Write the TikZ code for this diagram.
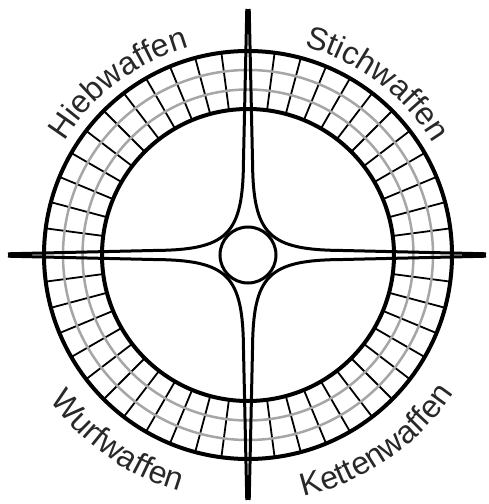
\documentclass[tikz,border=0pt]{standalone}
\usepackage{fontspec}
\usepackage{tikz}
\usetikzlibrary{decorations.text}
\newfontfamily\labelfont{Liberation Sans}
\newcommand\labelstyle{\labelfont\fontsize{32}{38}\selectfont}
\definecolor{ringgray}{RGB}{166,166,166}
\definecolor{labelgray}{RGB}{40,40,40}

\begin{document}
\begin{tikzpicture}[x=1pt, y=1pt,
    ringline/.style={line width=4pt},
    gridline/.style={line width=2.5pt, ringgray},
    spoke/.style={line width=1.8pt},
    armline/.style={line width=3pt},
    weaponlabel/.style={decorate, decoration={text along path, text align=center, text color=labelgray}}]
  \useasboundingbox (-248,-249) rectangle (240,255);
  % ring with spokes every 7.5 degrees
  \foreach \q in {0,90,180,270}
    \foreach \k in {1,...,11}
      \draw[spoke] (\q+\k*7.5:146) -- (\q+\k*7.5:204);
  \draw[gridline] (0,0) circle[radius=165.5];
  \draw[gridline] (0,0) circle[radius=185];
  \draw[ringline] (0,0) circle[radius=146];
  \draw[ringline] (0,0) circle[radius=204];
  % ends of the four arms
  \coordinate (northL) at (-1.2,246);
  \coordinate (northR) at (1.2,246);
  \coordinate (eastT) at (238,1.2);
  \coordinate (eastB) at (238,-1.2);
  \coordinate (southR) at (1.2,-245);
  \coordinate (southL) at (-1.2,-245);
  \coordinate (westB) at (-240,-1.2);
  \coordinate (westT) at (-240,1.2);
  % arms bending into each other
  \draw[armline] (northR) -- (4.5,95) .. controls (5,20) and (20,5) .. (95,4.5) -- (eastT);
  \draw[armline] (eastB) -- (95,-4.5) .. controls (20,-5) and (5,-20) .. (4.5,-95) -- (southR);
  \draw[armline] (southL) -- (-4.5,-95) .. controls (-5,-20) and (-20,-5) .. (-95,-4.5) -- (westB);
  \draw[armline] (westT) -- (-95,4.5) .. controls (-20,5) and (-5,20) .. (-4.5,95) -- (northL);
  \node[draw, circle, line width=3pt, minimum size=56pt, inner sep=0pt, fill=white] (hub) at (0,0) {};
  % labels
  \path[weaponlabel, decoration={text={|\labelstyle|Hiebwaffen}}] (157:216) arc[start angle=157, end angle=97, radius=216];
  \path[weaponlabel, decoration={text={|\labelstyle|Stichwaffen}}] (83:216) arc[start angle=83, end angle=23, radius=216];
  \path[weaponlabel, decoration={text={|\labelstyle|Wurfwaffen}}] (205:246) arc[start angle=205, end angle=265, radius=246];
  \path[weaponlabel, decoration={text={|\labelstyle|Kettenwaffen}}] (274.5:248) arc[start angle=274.5, end angle=334.5, radius=248];
\end{tikzpicture}
\end{document}
